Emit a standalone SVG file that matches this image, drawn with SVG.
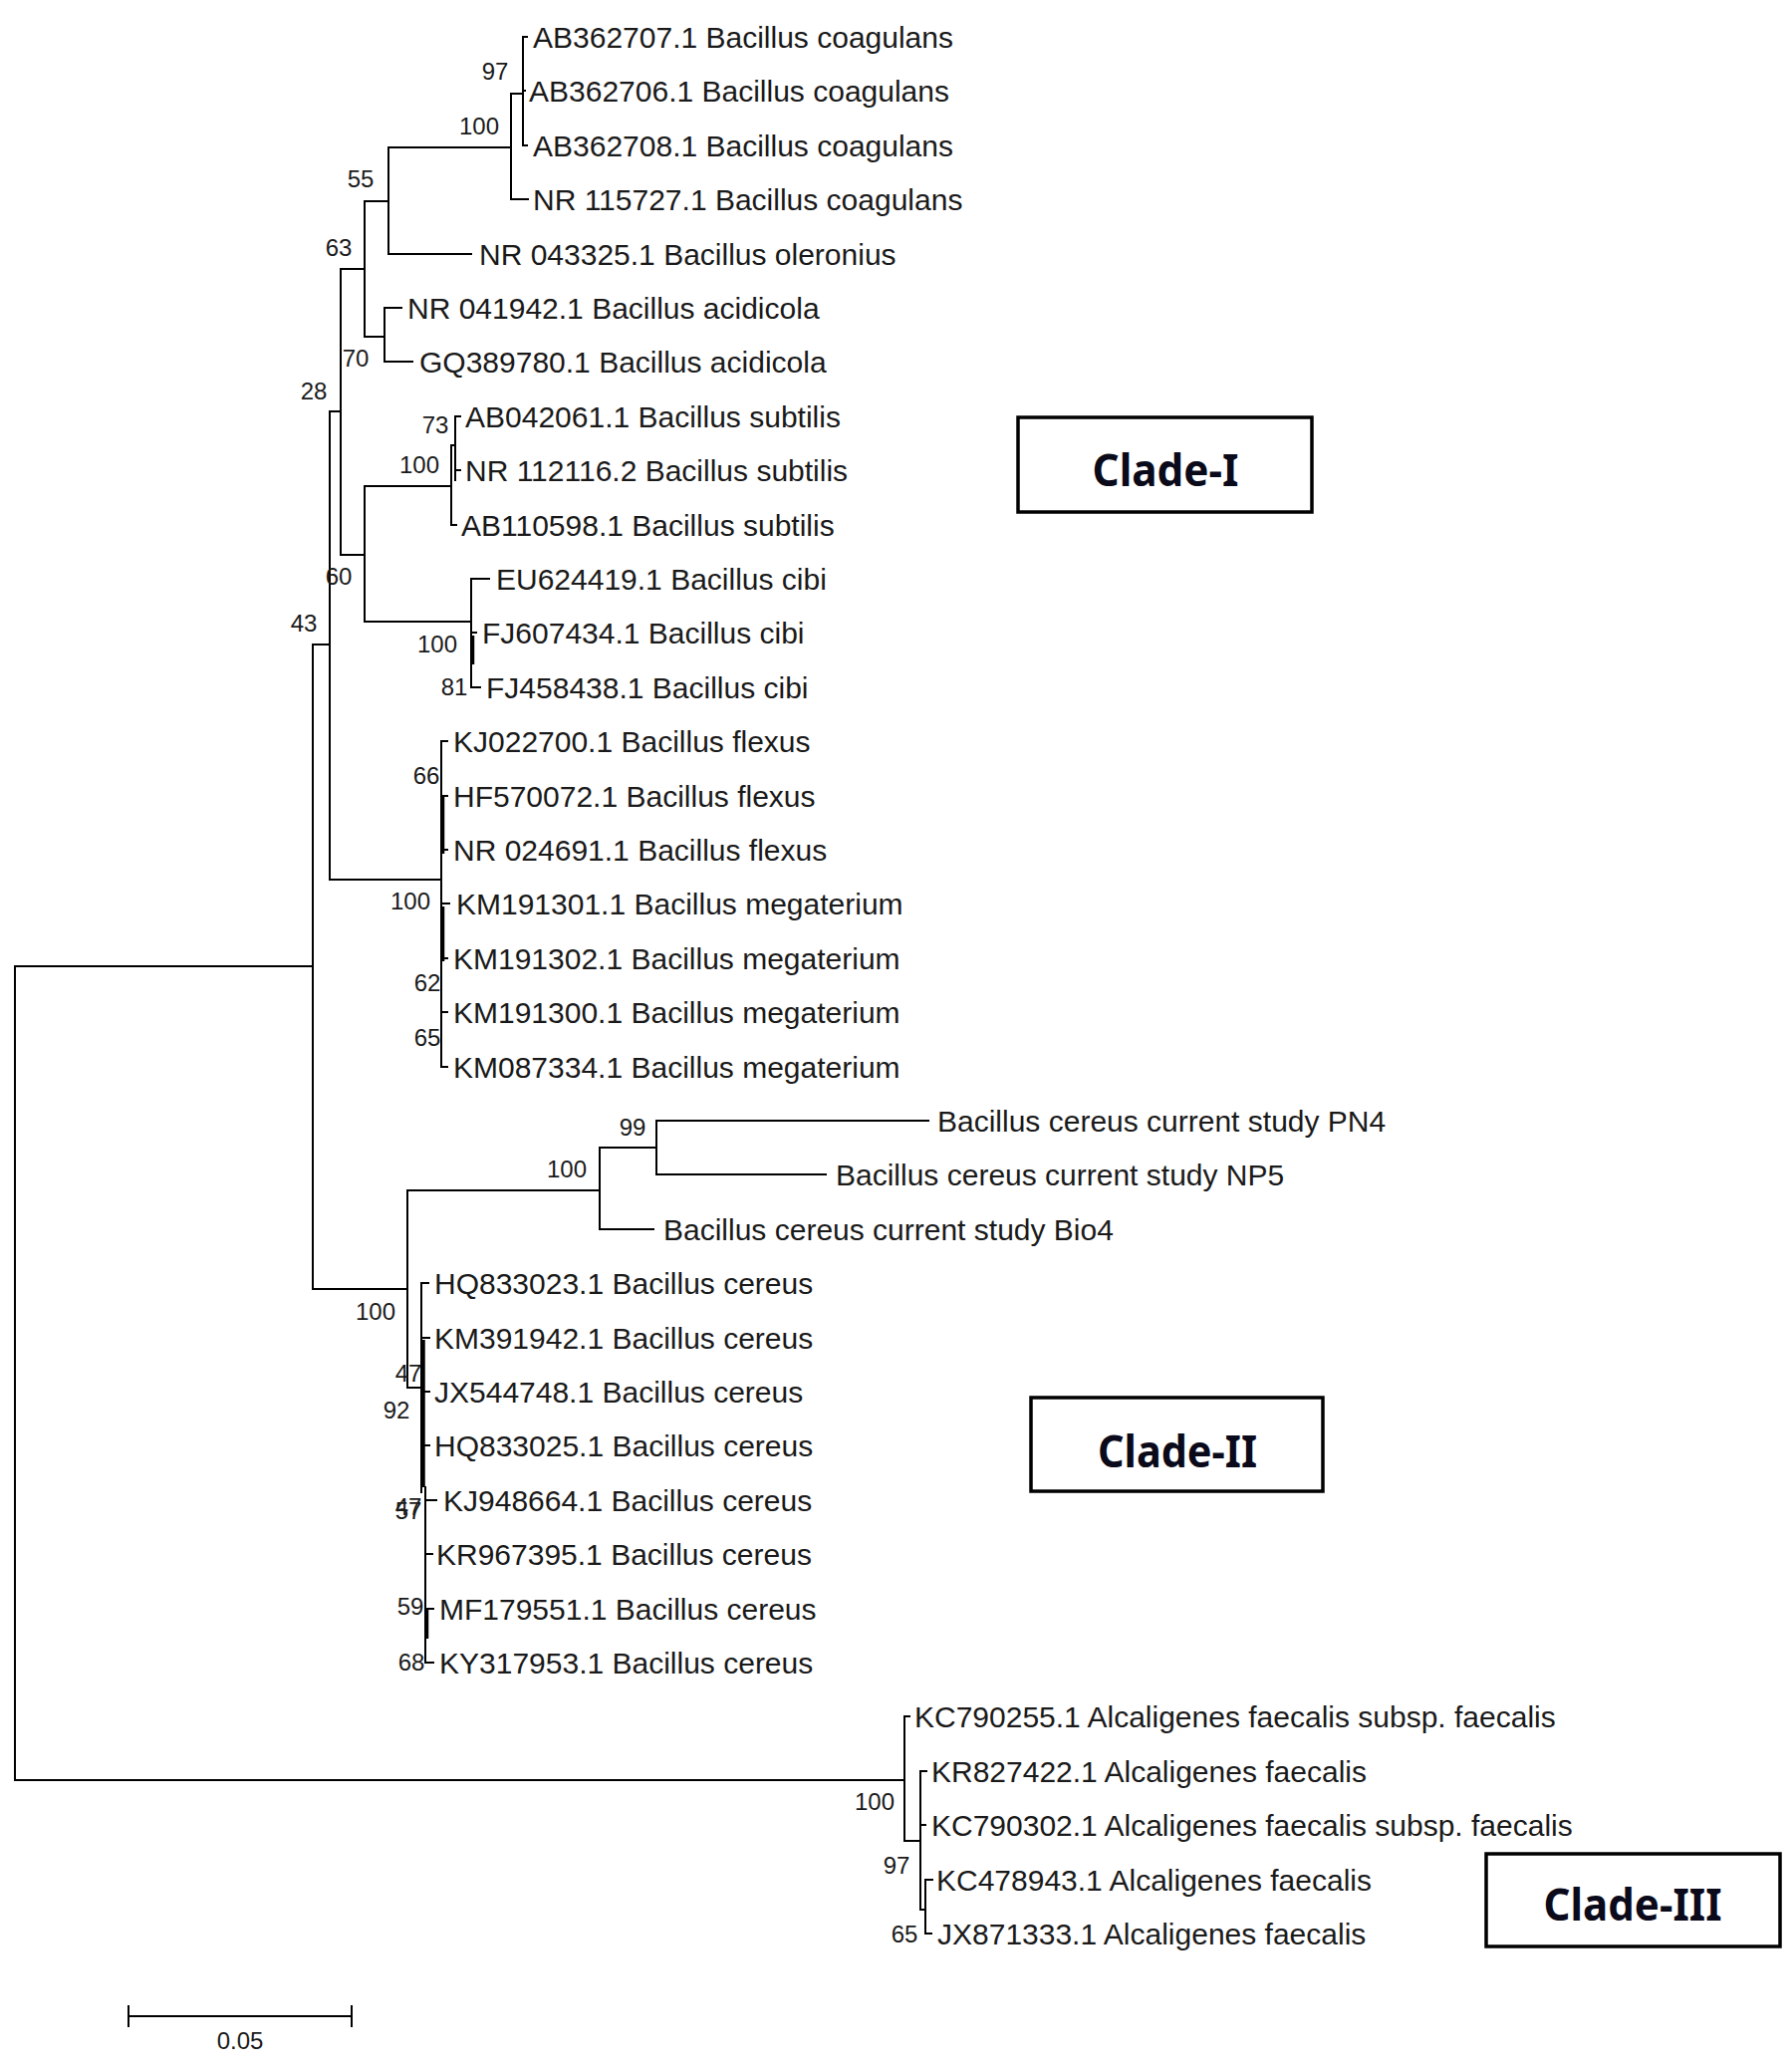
<svg xmlns="http://www.w3.org/2000/svg" width="1799" height="2075" viewBox="0 0 1799 2075">
<style>
.b{stroke:#000;stroke-width:2;fill:none;stroke-linecap:square}
.t{stroke:#000;stroke-width:3.5;fill:none}
.lf{font-family:"Liberation Sans",Arial,sans-serif;font-size:30px;fill:#1a1a1a}
.bs{font-family:"Liberation Sans",Arial,sans-serif;font-size:24px;fill:#1a1a1a;text-anchor:middle}
.cb{fill:#fff;stroke:#000;stroke-width:3.5}
.cl{font-family:"Noto Sans","Open Sans",sans-serif;font-weight:bold;font-size:45px;fill:#0a0a1a;text-anchor:middle}
</style>
<rect width="1799" height="2075" fill="#fff"/>
<g id="connectors">
<path class="b" d="M15 970V1787M15 970H314M15 1787H908"/>
<path class="b" d="M314 647V1294M314 647H331M314 1294H409"/>
<path class="b" d="M331 413V883M331 413H342M331 883H443"/>
<path class="b" d="M342 270V557M342 270H366M342 557H366"/>
<path class="b" d="M366 202V338M366 202H390M366 338H386"/>
<path class="b" d="M390 148V255M390 148H513M390 255H473"/>
<path class="b" d="M513 94V200M513 94H525M513 200H530"/>
<path class="b" d="M525 37V146M525 37H529M525 91H527M525 146H529"/>
<path class="b" d="M386 309V363M386 309H403M386 363H414"/>
<path class="b" d="M366 488V624M366 488H453M366 624H473"/>
<path class="b" d="M453 447V527M453 447H457M453 527H458"/>
<path class="b" d="M457 418V482M457 418H462M457 472H462"/>
<path class="b" d="M473 581V690M473 581H491M474 635H478M473 690H482"/>
<path class="t" d="M474.5 638V667"/>
<path class="b" d="M443 744V1071M443 744H449M443 799H449M443 853H449M443 907H451M443 962H449M443 1016H449M443 1071H449"/>
<path class="t" d="M444.5 800V857M444.5 910V965"/>
<path class="b" d="M409 1195V1393M409 1195H602M409 1393H423"/>
<path class="b" d="M602 1152V1234M602 1152H659M602 1234H656"/>
<path class="b" d="M659 1125V1179M659 1125H932M659 1179H829"/>
<path class="b" d="M423 1288V1498M423 1288H430M425 1343H431M425 1397H431M425 1451H431"/>
<path class="t" d="M425 1345V1493"/>
<path class="b" d="M427 1493V1669M427 1506H438M427 1560H434M428 1615H435M428 1669H435"/>
<path class="t" d="M428.5 1615V1645"/>
<path class="b" d="M908 1723V1848M908 1723H913M908 1848H924"/>
<path class="b" d="M924 1778V1917M924 1778H930M924 1832H929M924 1917H929"/>
<path class="b" d="M929 1887V1941M929 1887H936M929 1941H935"/>
</g>
<g id="leaves">
<g id="n0"><text class="lf" x="535" y="48">AB362707.1 Bacillus coagulans</text></g>
<g id="n1"><text class="lf" x="531" y="102">AB362706.1 Bacillus coagulans</text></g>
<g id="n2"><text class="lf" x="535" y="157">AB362708.1 Bacillus coagulans</text></g>
<g id="n3"><text class="lf" x="535" y="211">NR 115727.1 Bacillus coagulans</text></g>
<g id="n4"><text class="lf" x="481" y="266">NR 043325.1 Bacillus oleronius</text></g>
<g id="n5"><text class="lf" x="409" y="320">NR 041942.1 Bacillus acidicola</text></g>
<g id="n6"><text class="lf" x="421" y="374">GQ389780.1 Bacillus acidicola</text></g>
<g id="n7"><text class="lf" x="467" y="429">AB042061.1 Bacillus subtilis</text></g>
<g id="n8"><text class="lf" x="467" y="483">NR 112116.2 Bacillus subtilis</text></g>
<g id="n9"><text class="lf" x="463" y="538">AB110598.1 Bacillus subtilis</text></g>
<g id="n10"><text class="lf" x="498" y="592">EU624419.1 Bacillus cibi</text></g>
<g id="n11"><text class="lf" x="484" y="646">FJ607434.1 Bacillus cibi</text></g>
<g id="n12"><text class="lf" x="488" y="701">FJ458438.1 Bacillus cibi</text></g>
<g id="n13"><text class="lf" x="455" y="755">KJ022700.1 Bacillus flexus</text></g>
<g id="n14"><text class="lf" x="455" y="810">HF570072.1 Bacillus flexus</text></g>
<g id="n15"><text class="lf" x="455" y="864">NR 024691.1 Bacillus flexus</text></g>
<g id="n16"><text class="lf" x="458" y="918">KM191301.1 Bacillus megaterium</text></g>
<g id="n17"><text class="lf" x="455" y="973">KM191302.1 Bacillus megaterium</text></g>
<g id="n18"><text class="lf" x="455" y="1027">KM191300.1 Bacillus megaterium</text></g>
<g id="n19"><text class="lf" x="455" y="1082">KM087334.1 Bacillus megaterium</text></g>
<g id="n20"><text class="lf" x="941" y="1136">Bacillus cereus current study PN4</text></g>
<g id="n21"><text class="lf" x="839" y="1190">Bacillus cereus current study NP5</text></g>
<g id="n22"><text class="lf" x="666" y="1245">Bacillus cereus current study Bio4</text></g>
<g id="n23"><text class="lf" x="436" y="1299">HQ833023.1 Bacillus cereus</text></g>
<g id="n24"><text class="lf" x="436" y="1354">KM391942.1 Bacillus cereus</text></g>
<g id="n25"><text class="lf" x="436" y="1408">JX544748.1 Bacillus cereus</text></g>
<g id="n26"><text class="lf" x="436" y="1462">HQ833025.1 Bacillus cereus</text></g>
<g id="n27"><text class="lf" x="445" y="1517">KJ948664.1 Bacillus cereus</text></g>
<g id="n28"><text class="lf" x="438" y="1571">KR967395.1 Bacillus cereus</text></g>
<g id="n29"><text class="lf" x="441" y="1626">MF179551.1 Bacillus cereus</text></g>
<g id="n30"><text class="lf" x="441" y="1680">KY317953.1 Bacillus cereus</text></g>
<g id="n31"><text class="lf" x="918" y="1734">KC790255.1 Alcaligenes faecalis subsp. faecalis</text></g>
<g id="n32"><text class="lf" x="935" y="1789">KR827422.1 Alcaligenes faecalis</text></g>
<g id="n33"><text class="lf" x="935" y="1843">KC790302.1 Alcaligenes faecalis subsp. faecalis</text></g>
<g id="n34"><text class="lf" x="940" y="1898">KC478943.1 Alcaligenes faecalis</text></g>
<g id="n35"><text class="lf" x="941" y="1952">JX871333.1 Alcaligenes faecalis</text></g>
</g>
<g id="bootstrap">
<text class="bs" x="497" y="80">97</text>
<text class="bs" x="481" y="135">100</text>
<text class="bs" x="362" y="188">55</text>
<text class="bs" x="340" y="257">63</text>
<text class="bs" x="357" y="368">70</text>
<text class="bs" x="315" y="401">28</text>
<text class="bs" x="437" y="435">73</text>
<text class="bs" x="421" y="475">100</text>
<text class="bs" x="340" y="587">60</text>
<text class="bs" x="305" y="634">43</text>
<text class="bs" x="439" y="655">100</text>
<text class="bs" x="456" y="698">81</text>
<text class="bs" x="428" y="787">66</text>
<text class="bs" x="412" y="913">100</text>
<text class="bs" x="429" y="995">62</text>
<text class="bs" x="429" y="1050">65</text>
<text class="bs" x="635" y="1140">99</text>
<text class="bs" x="569" y="1182">100</text>
<text class="bs" x="377" y="1325">100</text>
<text class="bs" x="410" y="1387">47</text>
<text class="bs" x="398" y="1424">92</text>
<text class="bs" x="410" y="1521">47</text>
<text class="bs" x="410" y="1525">57</text>
<text class="bs" x="412" y="1621">59</text>
<text class="bs" x="413" y="1677">68</text>
<text class="bs" x="878" y="1817">100</text>
<text class="bs" x="900" y="1881">97</text>
<text class="bs" x="908" y="1950">65</text>
</g>
<g id="clade1"><rect class="cb" x="1022" y="419" width="295" height="95"/><text class="cl" x="1170" y="488" textLength="147" lengthAdjust="spacingAndGlyphs">Clade-I</text></g>
<g id="clade2"><rect class="cb" x="1035" y="1403" width="293" height="94"/><text class="cl" x="1182" y="1473" textLength="160" lengthAdjust="spacingAndGlyphs">Clade-II</text></g>
<g id="clade3"><rect class="cb" x="1492" y="1861" width="295" height="93"/><text class="cl" x="1639" y="1928" textLength="179" lengthAdjust="spacingAndGlyphs">Clade-III</text></g>
<g id="scalebar">
<path class="b" d="M129 2024H353M129 2014V2034M353 2014V2034"/>
<text class="bs" x="241" y="2057">0.05</text>
</g>
</svg>
